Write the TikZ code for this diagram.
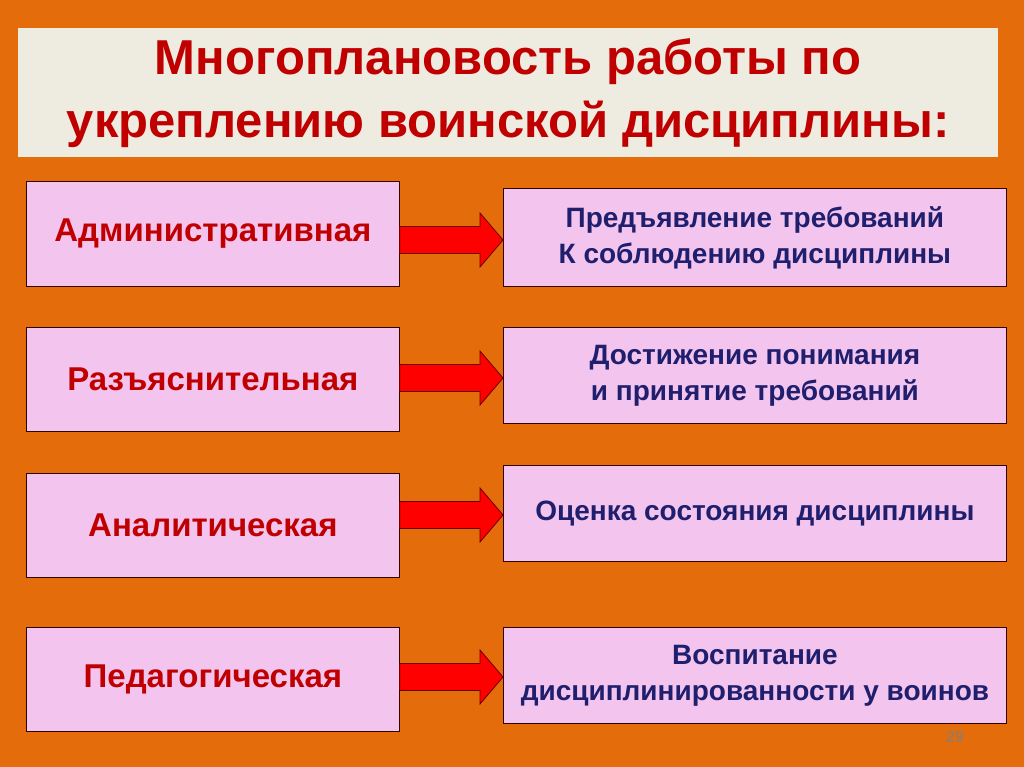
\documentclass[tikz,border=0pt]{standalone}
\usepackage{fontspec}
\setmainfont{Liberation Sans}
\definecolor{bg}{HTML}{E46C0A}
\definecolor{titlebg}{HTML}{EEECE1}
\definecolor{tred}{HTML}{C00000}
\definecolor{boxfill}{HTML}{F2C4EE}
\definecolor{tblue}{HTML}{1F1F6E}
\begin{document}
\begin{tikzpicture}[x=1pt,y=-1pt,
  lbox/.style={draw=black!80!red,line width=0.8pt,fill=boxfill,anchor=north west,inner sep=0pt,
     font=\fontsize{33}{38}\selectfont\bfseries,text=tred,align=center},
  rbox/.style={draw=black!80!red,line width=0.8pt,fill=boxfill,anchor=north west,inner sep=0pt,
     font=\fontsize{28}{36}\selectfont\bfseries,text=tblue,align=center},
  barrow/.style={draw=black!60!red,line width=0.8pt,fill=red}]
\fill[bg] (0,0) rectangle (1024,767);
\useasboundingbox (0,0) rectangle (1024,767);
\node[fill=titlebg,anchor=north west,minimum width=980pt,minimum height=129pt,inner sep=0pt,
  font=\fontsize{49}{63}\selectfont\bfseries,text=tred,align=center] (title) at (18,28)
  {Многоплановость работы по\\укреплению воинской дисциплины:};
\foreach \i/\ly/\lh/\ry/\rh/\lt/\rt in {
 1/181/105/188/98/Административная/{Предъявление требований\\К соблюдению дисциплины},
 2/327/104/327/96/Разъяснительная/{Достижение понимания\\и принятие требований},
 3/473/104/465/96/Аналитическая/{Оценка состояния дисциплины},
 4/627/104/627/96/Педагогическая/{Воспитание\\дисциплинированности у воинов}}{
 \node[lbox,minimum width=373pt,minimum height=\lh pt] (l\i) at (26,\ly) {\lt};
 \node[rbox,minimum width=503pt,minimum height=\rh pt] (r\i) at (503,\ry) {\rt};
}
\foreach \i/\c in {1/240,2/378,3/515,4/677}{
 \draw[barrow] (l1.east |- 0,\c-13.5) -- (480,\c-13.5) -- (480,\c-27) -- (r1.west |- 0,\c)
   -- (480,\c+27) -- (480,\c+13.5) -- (l1.east |- 0,\c+13.5) -- cycle;
}
\node[text=gray!70!bg,font=\fontsize{16}{18}\selectfont\bfseries] (pg) at (955,737) {29};
\end{tikzpicture}
\end{document}
